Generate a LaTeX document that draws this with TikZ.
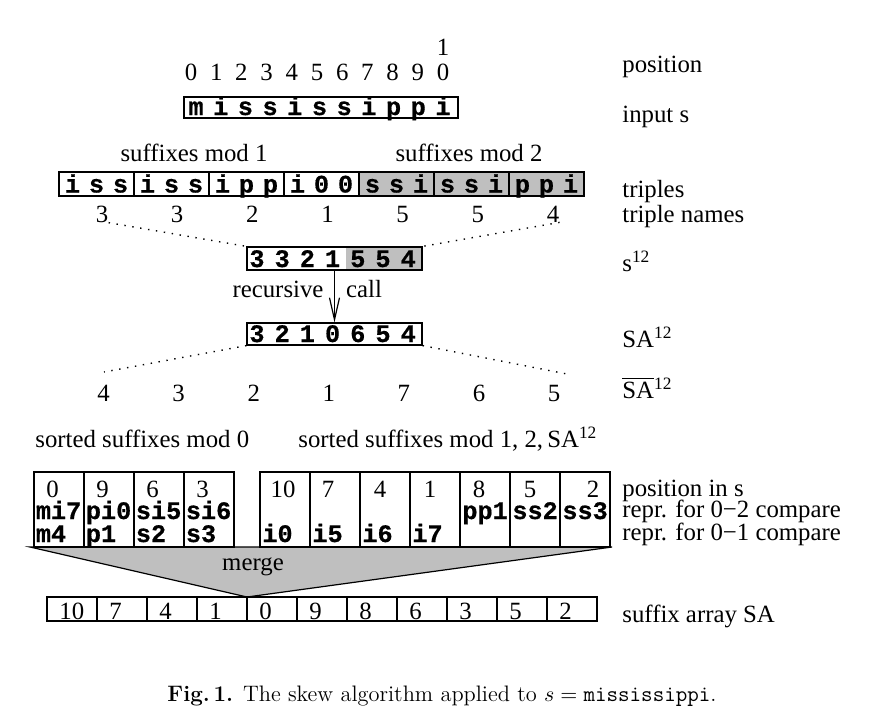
\documentclass[tikz,border=0pt]{standalone}
\usepackage{fontspec}
\usetikzlibrary{arrows.meta}
\newfontfamily\tms{Liberation Serif}
\newfontfamily\cour{Liberation Mono}[BoldFeatures={FakeBold=0.6}]
\tikzset{
  tl/.style={font=\tms\fontsize{12.4}{14}\selectfont, inner sep=0pt},
  mc/.style={font=\cour\bfseries\fontsize{12.6}{14}\selectfont, inner sep=0pt},
  boxline/.style={draw=black, line width=0.6pt},
  dots/.style={line width=0.7pt, dash pattern=on 0.7pt off 3.3pt},
}
\begin{document}
\begin{tikzpicture}[x=0.5pt,y=-0.5pt]
\useasboundingbox (0,0) rectangle (895,713);
% position digits
\foreach \d [count=\i from 0] in {0,...,9}
  \node[tl, anchor=base] (p\d) at ({191+25.2*\i},80) {\d};
\node[tl, anchor=base] (p10a) at (443,80) {0};
\node[tl, anchor=base] (p10b) at (443,55) {1};
% input s
\node[boxline, minimum width=137pt, minimum height=10.5pt, inner sep=0pt] (inp) at (321,107.5) {};
\foreach \c [count=\i from 0] in {m,i,s,s,i,s,s,i,p,p,i}
  \node[mc, anchor=base] (ic\i) at ({196+24.7*\i},115) {\c};
% suffixes mod headers
\node[tl, anchor=base] (h1) at (194,161) {suffixes mod 1};
\node[tl, anchor=base] (h2) at (469,161) {suffixes mod 2};
% triples
\fill[black!25] (359,172) rectangle (584,196);
\foreach \a/\b/\c [count=\i from 0] in {i/s/s,i/s/s,i/p/p,i/0/0,s/s/i,s/s/i,p/p/i}{
  \node[boxline, minimum width=37.5pt, minimum height=12pt, inner sep=0pt] (t\i) at ({96.5+75*\i},184) {};
  \node[mc, anchor=base] (ta\i) at ({72.5+75*\i},192.5) {\a};
  \node[mc, anchor=base] (tb\i) at ({96.5+75*\i},192.5) {\b};
  \node[mc, anchor=base] (tc\i) at ({120.5+75*\i},192.5) {\c};
}
% triple names
\foreach \n [count=\i from 0] in {3,3,2,1,5,5,4}
  \node[tl, anchor=base] (n\i) at ({102+75.17*\i},222) {\n};
% s12
\fill[black!25] (346,247) rectangle (422,270);
\node[boxline, minimum width=87.5pt, minimum height=11.5pt, inner sep=0pt] (s12) at (334.5,258.5) {};
\foreach \c [count=\i from 0] in {3,3,2,1,5,5,4}
  \node[mc, anchor=base] (sc\i) at ({257+25.2*\i},267) {\c};
\draw[dots] (n0.south east) -- (s12.north west);
\draw[dots] (n6.south east) -- (s12.north east);
% recursive call
\node[boxline, minimum width=87.5pt, minimum height=11pt, inner sep=0pt] (sa12) at (334.5,334) {};
\foreach \c [count=\i from 0] in {3,2,1,0,6,5,4}
  \node[mc, anchor=base] (ac\i) at ({257+25.2*\i},342) {\c};
\draw[line width=0.6pt, -{Straight Barb[length=11pt,width=5pt,line width=0.6pt]}] (s12.south) -- (sa12.north);
\node[tl, anchor=base] (rec) at (278,297) {recursive};
\node[tl, anchor=base] (call) at (364,297) {call};
% SA bar numbers
\foreach \n [count=\i from 0] in {4,3,2,1,7,6,5}
  \node[tl, anchor=base] (b\i) at ({103.5+75.1*\i},401) {\n};
\coordinate (dl) at (104,372);
\coordinate (dr) at (567,374);
\draw[dots] (sa12.south west) -- (dl);
\draw[dots] (sa12.south east) -- (dr);
% sorted suffixes headers
\node[tl, anchor=base west] (ss0) at (35,447) {sorted suffixes mod 0};
\node[tl, anchor=base west] (ss12) at (298,447) {sorted suffixes mod 1, 2,\,SA\textsuperscript{12}};
% merge funnel
\coordinate (ml) at (30,547);
\coordinate (mr) at (612,547);
\coordinate (mb) at (247,597);
\filldraw[fill=black!25, line width=0.6pt, line join=miter] (ml) -- (mr) -- (mb) -- cycle;
\node[tl, anchor=base] (merge) at (253,570) {merge};
% left cells
\foreach \i in {0,...,3}
  \node[boxline, fill=white, minimum width=25pt, minimum height=37.5pt, inner sep=0pt] (L\i) at ({59+50*\i},509.5) {};
\foreach \n/\a/\b [count=\i from 0] in {0/mi7/m4,9/pi0/p1,6/si5/s2,3/si6/s3}{
  \node[tl, anchor=base west] (Ln\i) at ({46+50*\i},497) {\n};
  \node[mc, anchor=base west] (La\i) at ({35.5+50*\i},519) {\a};
  \node[mc, anchor=base west] (Lb\i) at ({35.5+50*\i},542) {\b};
}
% right cells
\foreach \i in {0,...,6}
  \node[boxline, fill=white, minimum width=25pt, minimum height=37.5pt, inner sep=0pt] (R\i) at ({285+50*\i},509.5) {};
\foreach \n/\x [count=\i from 0] in {10/283,7/328,4/380,1/430,8/479,5/530,2/593}
  \node[tl, anchor=base] (Rn\i) at (\x,497) {\n};
\foreach \a [count=\i from 0] in {i0,i5,i6,i7}
  \node[mc, anchor=base west] (Rb\i) at ({262+50*\i},542) {\a};
\foreach \a [count=\i from 4] in {pp1,ss2,ss3}
  \node[mc, anchor=base west] (Ra\i) at ({262+50*\i},519) {\a};
% suffix array
\foreach \n [count=\i from 0] in {10,7,4,1,0,9,8,6,3,5,2}{
  \node[boxline, minimum width=25pt, minimum height=12pt, inner sep=0pt] (A\i) at ({72+50*\i},609) {};
  \node[tl, anchor=base west] (An\i) at ({59+50*\i},619) {\n};
}
% right labels
\node[tl, anchor=base west] (l1) at (622,72) {position};
\node[tl, anchor=base west] (l2) at (622,122) {input s};
\node[tl, anchor=base west] (l3) at (622,197) {triples};
\node[tl, anchor=base west] (l4) at (622,222) {triple names};
\node[tl, anchor=base west] (l5) at (622,271) {s\textsuperscript{12}};
\node[tl, anchor=base west] (l6) at (622,347) {SA\textsuperscript{12}};
\node[tl, anchor=base west] (l7) at (622,398) {$\overline{\hbox{SA}}$\textsuperscript{12}};
\node[tl, anchor=base west] (l8) at (622,496) {position in s};
\node[tl, anchor=base west] (l9) at (622,517) {repr. for 0−2 compare};
\node[tl, anchor=base west] (l10) at (622,540) {repr. for 0−1 compare};
\node[tl, anchor=base west] (l11) at (622,622) {suffix array SA};
% caption
\node[anchor=base, inner sep=0pt, font=\fontsize{11.2}{13}\selectfont] (cap) at (442,701) {\textbf{Fig.\,1.} The skew algorithm applied to $s=\hbox{\ttfamily mississippi}$.};
\end{tikzpicture}
\end{document}
